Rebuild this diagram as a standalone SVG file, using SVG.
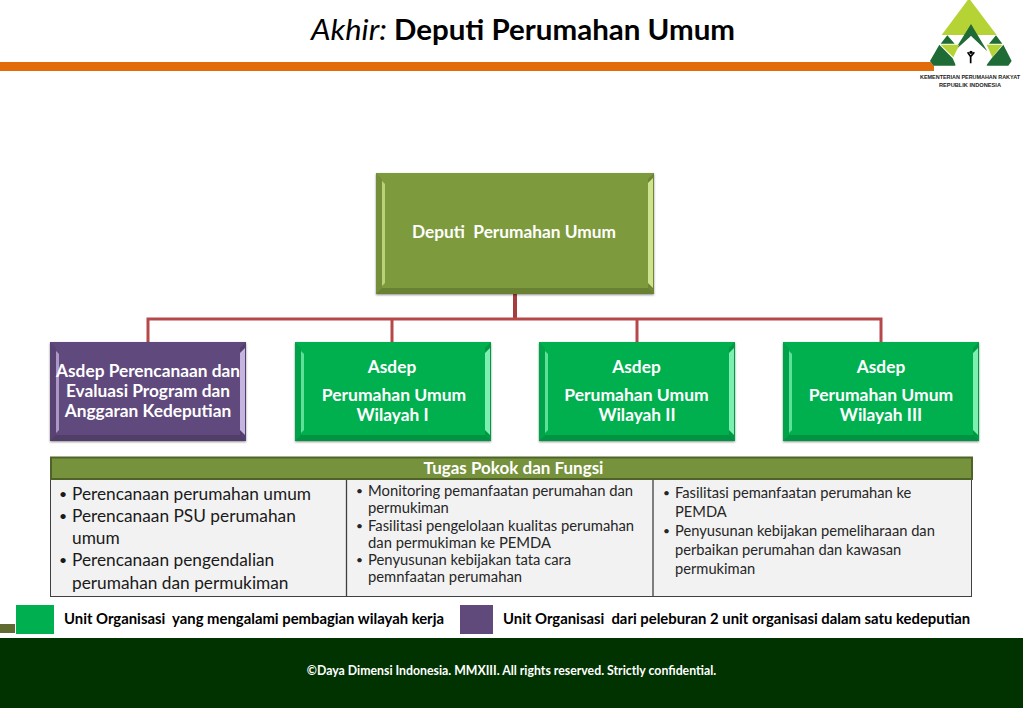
<svg xmlns="http://www.w3.org/2000/svg" xmlns:xlink="http://www.w3.org/1999/xlink" width="1023" height="708" viewBox="0 0 1023 708">
<defs>
<filter id="sh" x="-5%" y="-5%" width="110%" height="112%"><feDropShadow dx="0" dy="1" stdDeviation="1" flood-color="#000" flood-opacity=".45"/></filter>
<g id="bevelS">
<path d="M0 0L6 6V93L0 99Z" fill="#000" fill-opacity=".07"/>
<path d="M196 0L190 6V93L196 99Z" fill="#000" fill-opacity=".12"/>
<path d="M0 99L6 93H190L196 99Z" fill="#000" fill-opacity=".16"/>
<path d="M6 9L9 12V88L6 91Z" fill="currentColor" fill-opacity=".75"/>
<path d="M195 6V93L190 88V11Z" fill="currentColor"/>
</g>
<g id="bevelL">
<path d="M0 0L6 6V115L0 121Z" fill="#000" fill-opacity=".07"/>
<path d="M278 0L272 6V115L278 121Z" fill="#000" fill-opacity=".12"/>
<path d="M0 121L6 115H272L278 121Z" fill="#000" fill-opacity=".16"/>
<path d="M6 8L9 11V110L6 113Z" fill="currentColor" fill-opacity=".75"/>
<path d="M277 5V115L272 110V10Z" fill="currentColor"/>
</g>
</defs>
<style>
text{font-family:Lato,"Open Sans","Liberation Sans",sans-serif;white-space:pre}
.n{fill:#fff;font-weight:700;font-size:17.300px;text-anchor:middle}
.p{font-size:17.500px}
.l{fill:#000;font-weight:700;font-size:14.850px}
.c{fill:none;stroke:#b5494a;stroke-width:3}
.d{fill:#1f6b35}
.g{fill:#b5d334}
</style>
<rect width="1023" height="708" fill="#fff"/>
<g id="header">
<rect x="0" y="62" width="934" height="9" fill="#e36c0a"/>
<text x="311" y="40" font-size="29" fill="#000" font-style="italic" textLength="76" lengthAdjust="spacingAndGlyphs">Akhir:</text>
<text x="394" y="40" font-size="29" fill="#000" font-weight="700" textLength="341" lengthAdjust="spacingAndGlyphs">Deputi Perumahan Umum</text>
</g>
<g id="logo">
<g transform="translate(900 0) scale(.3333)">
<path d="M207 -5L290 105H125Z" class="g"/>
<path d="M125 105H290L305 133L335 183L325 197H100L90 183L125 133Z" fill="#fff"/>
<path d="M213 72L262 154L213 108L162 154Z" class="d"/>
<path d="M142 106L164 131H122Z M288 106L307 131H267Z" class="d"/>
<path d="M122 134H178L160 172Z M260 134H307L277 172Z" class="g"/>
<path d="M118 134L158 175L168 197H100L90 183Z M310 134L335 183L325 197H258L275 175Z" class="d"/>
<path d="M213 108L262 197H165Z" fill="#fff"/>
<circle cx="213" cy="157" r="5" fill="#000"/>
<path d="M203 157L212 170L223 157M212 168V190" fill="none" stroke="#000" stroke-width="5"/>
</g>
<text x="920" y="79" font-size="5.200" font-weight="700" fill="#222" style="font-family:'Liberation Sans',sans-serif" textLength="100" lengthAdjust="spacingAndGlyphs">KEMENTERIAN PERUMAHAN RAKYAT</text>
<text x="939" y="87" font-size="5.600" font-weight="700" fill="#222" style="font-family:'Liberation Sans',sans-serif" textLength="62" lengthAdjust="spacingAndGlyphs">REPUBLIK INDONESIA</text>
</g>
<g id="connectors">
<path class="c" d="M515 294V319" style="stroke-width:4;stroke:#a63c3e"/>
<path class="c" d="M148 342V319H881V342M392 319V342M637 319V342"/>
</g>
<g id="deputi" color="#cfe38f">
<rect x="376" y="173" width="278" height="121" fill="#7d9a3e" filter="url(#sh)"/>
<use xlink:href="#bevelL" href="#bevelL" x="376" y="173"/>
<text class="n" x="514" y="238">Deputi  Perumahan Umum</text>
</g>
<g id="asdep-perencanaan" color="#c5b3e0">
<rect x="50" y="342" width="196" height="99" fill="#604a7b" filter="url(#sh)"/>
<use xlink:href="#bevelS" href="#bevelS" x="50" y="342"/>
<text class="n" x="148" y="377">Asdep Perencanaan dan</text>
<text class="n" x="148" y="397">Evaluasi Program dan</text>
<text class="n" x="148" y="417">Anggaran Kedeputian</text>
</g>
<g id="asdep-1" color="#7df0b0">
<rect x="295" y="342" width="196" height="99" fill="#00b050" filter="url(#sh)"/>
<use xlink:href="#bevelS" href="#bevelS" x="295" y="342"/>
<text class="n" x="392" y="373">Asdep</text>
<text class="n p" x="394" y="401">Perumahan Umum</text>
<text class="n" x="392.500" y="421">Wilayah I</text>
</g>
<g id="asdep-2" color="#7df0b0">
<rect x="539" y="342" width="196" height="99" fill="#00b050" filter="url(#sh)"/>
<use xlink:href="#bevelS" href="#bevelS" x="539" y="342"/>
<text class="n" x="636.500" y="373">Asdep</text>
<text class="n p" x="636.500" y="401">Perumahan Umum</text>
<text class="n" x="637" y="421">Wilayah II</text>
</g>
<g id="asdep-3" color="#7df0b0">
<rect x="783" y="342" width="196" height="99" fill="#00b050" filter="url(#sh)"/>
<use xlink:href="#bevelS" href="#bevelS" x="783" y="342"/>
<text class="n" x="881" y="373">Asdep</text>
<text class="n p" x="881" y="401">Perumahan Umum</text>
<text class="n" x="881" y="421">Wilayah III</text>
</g>
<g id="tugas">
<rect x="50.500" y="479.500" width="921" height="117" fill="#f2f2f2" stroke="#404040"/>
<path d="M346.500 479V597M653 479V597" stroke="#404040" stroke-width="1.300"/>
<rect x="51" y="457.500" width="921" height="21.500" fill="#76923c" stroke="#4f6228" stroke-width="2"/>
<text x="513.500" y="474" font-size="17" font-weight="700" fill="#fff" text-anchor="middle">Tugas Pokok dan Fungsi</text>
<g font-size="17.300" fill="#1a1a1a">
<text x="59" y="499" font-size="14">•</text><text x="72" y="500">Perencanaan perumahan umum</text>
<text x="59" y="521" font-size="14">•</text><text x="72" y="522">Perencanaan PSU perumahan</text>
<text x="72" y="544">umum</text>
<text x="59" y="565" font-size="14">•</text><text x="72" y="566">Perencanaan pengendalian</text>
<text x="72" y="589">perumahan dan permukiman</text>
</g>
<g font-size="14.800" fill="#262626">
<text x="356" y="495" font-size="12">•</text><text x="368" y="496">Monitoring pemanfaatan perumahan dan</text>
<text x="368" y="513">permukiman</text>
<text x="356" y="530" font-size="12">•</text><text x="368" y="531">Fasilitasi pengelolaan kualitas perumahan</text>
<text x="368" y="548">dan permukiman ke PEMDA</text>
<text x="356" y="564" font-size="12">•</text><text x="368" y="565">Penyusunan kebijakan tata cara</text>
<text x="368" y="582">pemnfaatan perumahan</text>
</g>
<g font-size="14.700" fill="#262626">
<text x="663" y="497" font-size="12">•</text><text x="675" y="498">Fasilitasi pemanfaatan perumahan ke</text>
<text x="675" y="517">PEMDA</text>
<text x="663" y="535" font-size="12">•</text><text x="675" y="536">Penyusunan kebijakan pemeliharaan dan</text>
<text x="675" y="555">perbaikan perumahan dan kawasan</text>
<text x="675" y="574">permukiman</text>
</g>
</g>
<g id="legend">
<rect x="0" y="624" width="15" height="9" fill="#5f6b30"/>
<rect x="16" y="605" width="38" height="29" fill="#00b050"/>
<text class="l" x="64" y="624">Unit Organisasi  yang mengalami pembagian wilayah kerja</text>
<rect x="460" y="605" width="33" height="29" fill="#604a7b"/>
<text class="l" x="503" y="624">Unit Organisasi  dari peleburan 2 unit organisasi dalam satu kedeputian</text>
</g>
<g id="footer">
<rect x="0" y="638" width="1023" height="70" fill="#003300"/>
<text x="511.500" y="675" font-size="12.300" font-weight="700" fill="#fff" text-anchor="middle">©Daya Dimensi Indonesia. MMXIII. All rights reserved. Strictly confidential.</text>
</g>
</svg>
